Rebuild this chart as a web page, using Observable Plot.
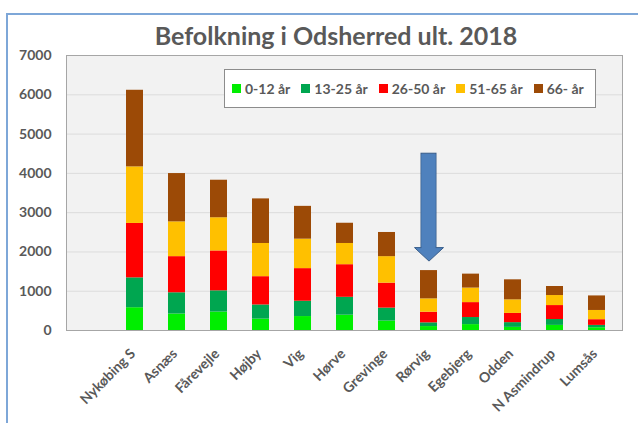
<!DOCTYPE html>
<html><head><meta charset="utf-8">
<script src="https://cdn.jsdelivr.net/npm/d3@7"></script>
<script src="https://cdn.jsdelivr.net/npm/@observablehq/plot@0.6"></script>
<style>
body{margin:0;background:#fff;font-family:Lato,sans-serif;}
#wrap{position:relative;width:638px;height:423px;overflow:hidden;background:#fff;}
#border{position:absolute;left:6px;top:13px;right:-10px;bottom:-10px;border-left:2px solid #7ea7d8;border-top:2px solid #7ea7d8;}
#chart{position:absolute;left:0;top:0;}
#title{position:absolute;left:0;width:672px;top:20px;text-align:center;font-weight:bold;font-size:25px;color:#595959;font-family:Lato,sans-serif;}
#legend{position:absolute;left:224px;top:69px;width:372px;height:39px;box-sizing:border-box;background:#fff;border:1px solid #8c8c8c;display:flex;align-items:center;padding-left:7px;gap:11px;font-weight:bold;font-size:14px;color:#595959;font-family:Lato,sans-serif;}
#legend .it{display:flex;align-items:center;white-space:nowrap;}
#legend .sw{display:inline-block;width:9px;height:9px;margin-right:4px;}
#chart svg text{font-weight:bold;}
</style>
</head><body>
<div id="wrap">
  <div id="border"></div>
  <div id="chart"></div>
  <div id="title"></div>
  <div id="legend"></div>
</div>
<script>
const titleText = "Befolkning i Odsherred ult. 2018";
const categories = ["Nykøbing S","Asnæs","Fårevejle","Højby","Vig","Hørve","Grevinge","Rørvig","Egebjerg","Odden","N Asmindrup","Lumsås"];
const ageGroups = ["0-12 år","13-25 år","26-50 år","51-65 år","66- år"];
const groupColors = ["#00ee00","#00a650","#ff0000","#ffc000","#9c4a06"];
const v0_12  = [580, 420, 470, 290, 355, 390, 240, 100, 150,  80, 130,  70];
const v13_25 = [760, 540, 540, 360, 390, 455, 330,  95, 180, 120, 150,  60];
const v26_50 = [1385, 920, 1015, 720, 830, 830, 635, 270, 380, 235, 355, 145];
const v51_65 = [1440, 885, 845, 845, 750, 540, 675, 340, 370, 345, 255, 235];
const v66    = [1950, 1230, 955, 1135, 835, 515, 615, 720, 355, 510, 230, 370];
const yTicks = [0,1000,2000,3000,4000,5000,6000,7000];
const arrowCategory = "Rørvig";
const arrowTop = 4500;
const arrowHeadBase = 2110;

const series = [v0_12, v13_25, v26_50, v51_65, v66];
const table = categories.flatMap((c, i) => ageGroups.map((g, j) => ({category: c, group: g, value: series[j][i]})));
const arrowData = [{category: arrowCategory, base: arrowHeadBase, top: arrowTop}];

const headSymbol = {
  draw(context) {
    context.moveTo(-14.5, 0);
    context.lineTo(14.5, 0);
    context.lineTo(0, 13.5);
    context.closePath();
  }
};

const chart = Plot.plot({
  width: 638,
  height: 423,
  marginTop: 55,
  marginBottom: 93,
  marginLeft: 66,
  marginRight: 16,
  style: {fontFamily: "Lato, sans-serif", color: "#595959", background: "transparent", overflow: "visible"},
  x: {domain: ["", ...categories], paddingInner: 0.6, paddingOuter: 0.3, label: null},
  y: {domain: [0, 7000], label: null},
  color: {domain: ageGroups, range: groupColors},
  marks: [
    Plot.frame({fill: "#f2f2f2", stroke: "none"}),
    Plot.ruleY(yTicks, {stroke: "#dcdcdc"}),
    Plot.barY(table, {x: "category", y: "value", fill: "group"}),
    Plot.dot(arrowData, {x: "category", y: "base", symbol: headSymbol, fill: "#4f81bd", stroke: "#385d8a", strokeWidth: 1}),
    Plot.barY(arrowData, {x: "category", y1: "base", y2: "top", fill: "#4f81bd", stroke: "#385d8a", strokeWidth: 1, insetLeft: 1, insetRight: 1}),
    Plot.barY(arrowData, {x: "category", y1: "base", y2: "top", fill: "#4f81bd", insetLeft: 1.5, insetRight: 1.5, insetTop: 1, insetBottom: -3}),
    Plot.frame({stroke: "#a6a6a6"}),
    Plot.axisY({ticks: yTicks, tickSize: 0, tickPadding: 15, fontSize: 14, fontWeight: "bold", label: null, tickFormat: d => String(d)}),
    Plot.axisX({tickSize: 0, tickPadding: 21, tickRotate: -45, fontSize: 14, fontWeight: "bold", label: null, tickFormat: d => d, dx: -2})
  ]
});
document.getElementById("chart").appendChild(chart);
document.getElementById("title").textContent = titleText;

const legend = document.getElementById("legend");
ageGroups.forEach((g, j) => {
  const it = document.createElement("span");
  it.className = "it";
  const sw = document.createElement("span");
  sw.className = "sw";
  sw.style.background = groupColors[j];
  it.appendChild(sw);
  it.appendChild(document.createTextNode(g));
  legend.appendChild(it);
});
</script>
</body></html>
